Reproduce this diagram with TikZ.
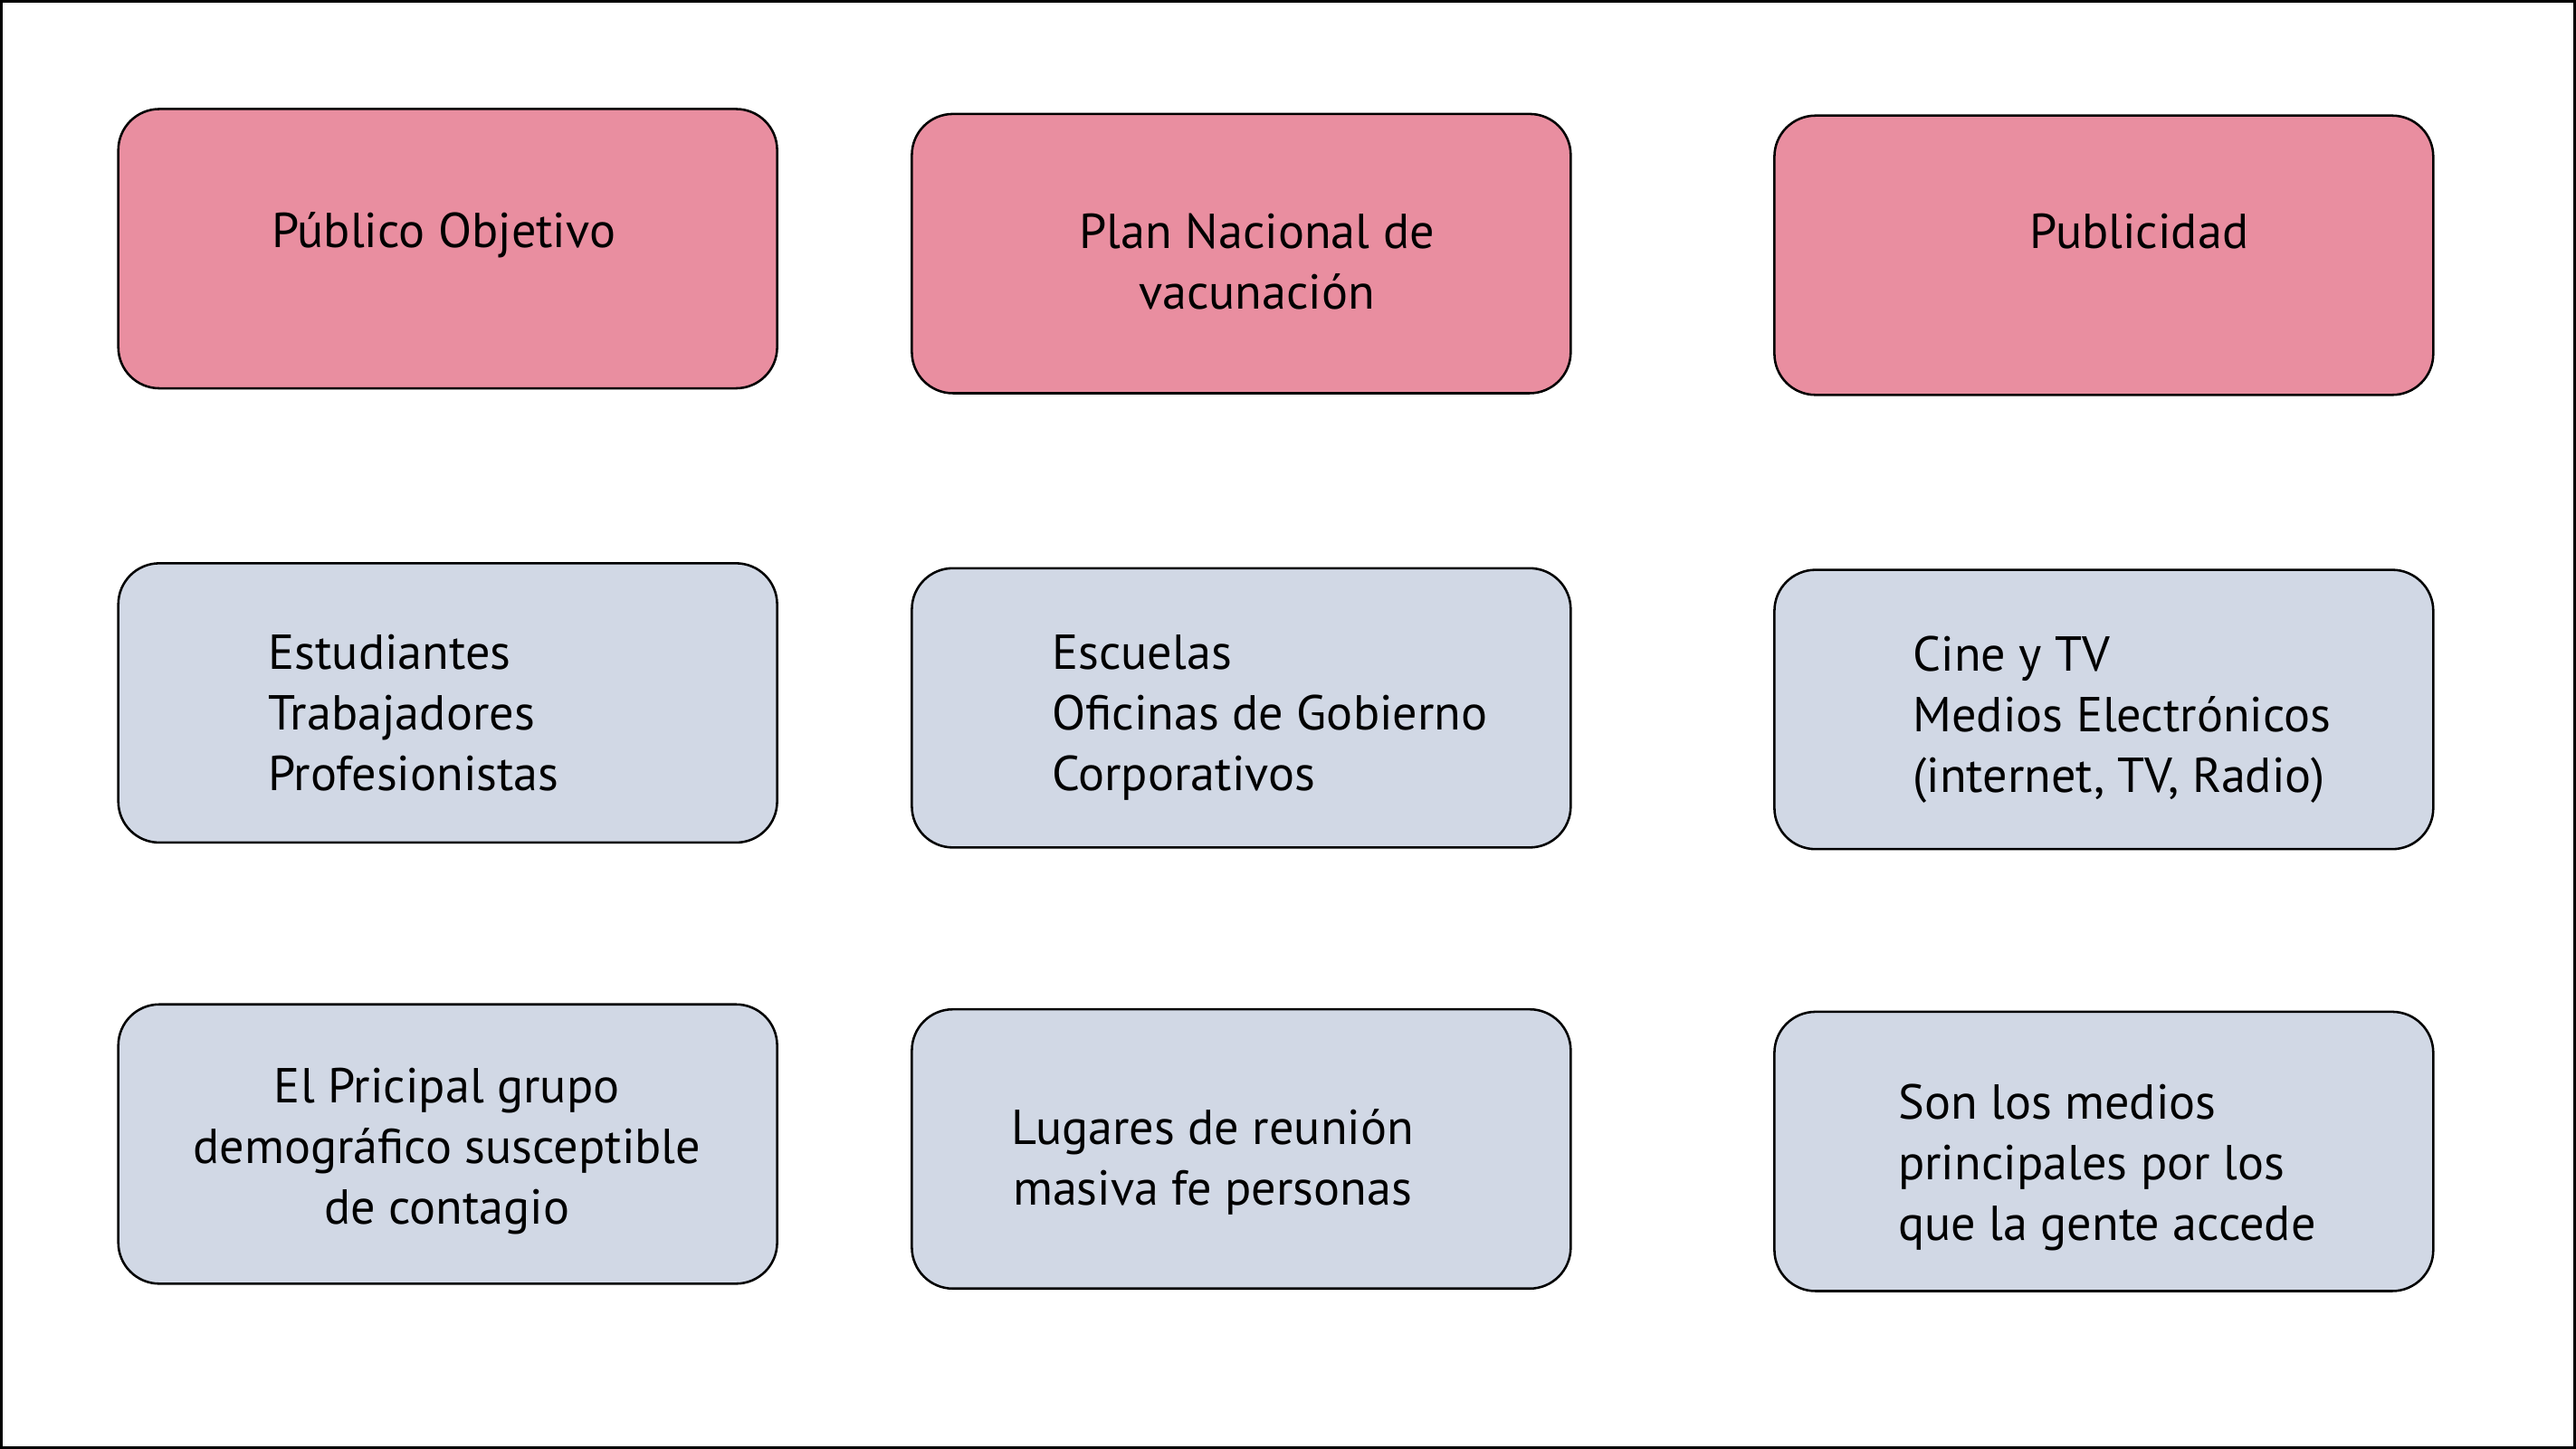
\documentclass[tikz,border=0pt]{standalone}
\usepackage{fontspec}
\setmainfont{PT Sans}
\usepackage{xcolor}
\usepackage{tikz}
\definecolor{pinkbox}{RGB}{233,142,160}
\definecolor{greybox}{RGB}{209,216,229}

\begin{document}
\begin{tikzpicture}[%
    card/.style={rectangle,rounded corners=0.5cm,draw,line width=0.8pt,minimum width=8.02cm,minimum height=3.4cm},
    head/.style={card,fill=pinkbox},
    info/.style={card,fill=greybox},
    txt/.style={inner sep=0pt,font=\fontsize{17}{21}\selectfont},
                        ]
    \draw[line width=1pt] (0.0175,0.0175) rectangle (31.34,17.62);
    % first row
    \node[head] (publico_box)  at (5.45,14.61) {};
    \node[head] (plan_box)     at (15.11,14.55) {};
    \node[head] (publi_box)    at (25.61,14.53) {};
    \node[txt] (publico_txt) at (5.4,14.78) {Público Objetivo};
    \node[txt,align=center] (plan_txt) at (15.3,14.45) {Plan Nacional de\\vacunación};
    \node[txt] (publi_txt) at (26.04,14.82) {Publicidad};
    % second row
    \node[info] (grupos_box)   at (5.45,9.08) {};
    \node[info] (lugares_box)  at (15.11,9.02) {};
    \node[info] (medios_box)   at (25.61,9.0) {};
    \node[txt,align=left,anchor=west] (grupos_txt) at (3.26,8.96) {Estudiantes\\Trabajadores\\Profesionistas};
    \node[txt,align=left,anchor=west] (lugares_txt) at (12.8,8.9) {Escuelas\\Oficinas de Gobierno\\Corporativos};
    \node[txt,align=left,anchor=west] (medios_txt) at (23.28,8.88) {Cine y TV\\Medios Electrónicos\\(internet, TV, Radio)};
    % third row
    \node[info] (grupo_box)    at (5.45,3.71) {};
    \node[info] (reunion_box)  at (15.11,3.65) {};
    \node[info] (acceso_box)   at (25.61,3.62) {};
    \node[txt,align=center] (grupo_txt) at (5.44,3.62) {El Pricipal grupo\\demográfico susceptible\\de contagio};
    \node[txt,align=center] (reunion_txt) at (14.76,3.49) {Lugares de reunión\\masiva fe personas};
    \node[txt,align=left,anchor=west] (acceso_txt) at (23.1,3.42) {Son los medios\\principales por los\\que la gente accede};
\end{tikzpicture}
\end{document}
